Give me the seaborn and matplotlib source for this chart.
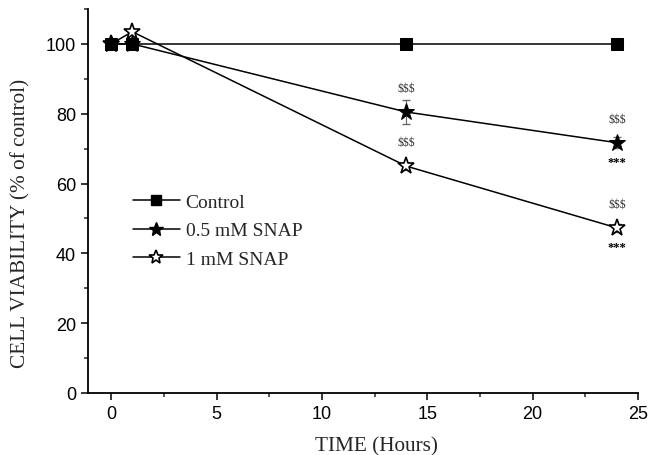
import matplotlib
matplotlib.use("Agg")
import matplotlib.pyplot as plt
import seaborn as sns
import pandas as pd
from matplotlib.ticker import MultipleLocator
from matplotlib.lines import Line2D

sns.set_style("ticks")
plt.rcParams["font.family"] = ["Liberation Sans", "DejaVu Sans"]

time_h = [0, 1, 14, 24]
control = [100, 100, 100, 100]
snap_05 = [100, 100, 80.5, 71.7]
snap_05_err = [0, 0, 3.3, 1.5]
snap_1 = [100, 103.5, 65.0, 47.3]
snap_1_err = [0, 0, 1.0, 1.2]
series_names = ["Control", "0.5 mM SNAP", "1 mM SNAP"]

frames = []
for name, vals in zip(series_names, [control, snap_05, snap_1]):
    frames.append(pd.DataFrame({"time": time_h, "viability": vals, "group": name}))
df = pd.concat(frames, ignore_index=True)

fig = plt.figure(figsize=(6.48, 4.56), dpi=100)
ax = fig.add_axes([88 / 648, 62 / 456, 550 / 648, 384 / 456])

styles = {
    "Control": dict(marker="s", markersize=8, markerfacecolor="black", markeredgecolor="black"),
    "0.5 mM SNAP": dict(marker="*", markersize=12.5, markerfacecolor="black", markeredgecolor="black"),
    "1 mM SNAP": dict(marker="*", markersize=12.5, markerfacecolor="white", markeredgecolor="black",
                      markeredgewidth=1.2),
}
order = ["Control", "1 mM SNAP", "0.5 mM SNAP"]
for name in order:
    sub = df[df["group"] == name]
    sns.lineplot(data=sub, x="time", y="viability", ax=ax, color="black",
                 linewidth=1.1, legend=False, **styles[name])

for vals, errs in [(snap_05, snap_05_err), (snap_1, snap_1_err)]:
    ax.errorbar(time_h[2:], vals[2:], yerr=errs[2:], fmt="none", ecolor="#666666",
                elinewidth=0.8, capsize=3, zorder=1)

serif = ["Liberation Serif", "DejaVu Serif"]
for vals in [snap_05, snap_1]:
    for t, v in zip(time_h[2:], vals[2:]):
        ax.text(t, v + 5.2, "$$$", ha="center", va="bottom", fontsize=8.5,
                family=serif, color="#333333")
for vals in [snap_05, snap_1]:
    ax.text(time_h[3], vals[3] - 3.8, "***", ha="center", va="top", fontsize=9,
            family=serif, color="black", fontweight="bold")

ax.set_xlim(-1.1, 25)
ax.set_ylim(0, 110)
ax.xaxis.set_major_locator(MultipleLocator(5))
ax.xaxis.set_minor_locator(MultipleLocator(2.5))
ax.yaxis.set_major_locator(MultipleLocator(20))
ax.yaxis.set_minor_locator(MultipleLocator(10))
ax.tick_params(axis="both", which="major", direction="out", length=5, width=1.1,
               labelsize=13, colors="black")
ax.tick_params(axis="both", which="minor", direction="out", length=3, width=1.1)
for s in ["left", "bottom"]:
    ax.spines[s].set_linewidth(1.3)
    ax.spines[s].set_color("black")
sns.despine(ax=ax)

ax.set_xlabel("TIME (Hours)", family=serif, fontsize=15.3)
ax.set_ylabel("CELL VIABILITY (% of control)", family=serif, fontsize=15.3)
ax.xaxis.set_label_coords(0.524, -0.112)
ax.yaxis.set_label_coords(-0.105, 0.443)

handles = [Line2D([], [], color="black", linewidth=1.1,
                  **{**styles[n], "markersize": styles[n]["markersize"] * 0.85}) for n in series_names]
ax.legend(handles, series_names, loc="upper left", bbox_to_anchor=(0.05, 0.565),
          frameon=False, prop={"family": serif, "size": 14}, handlelength=2.4,
          handletextpad=0.3, labelspacing=0.55)

fig.savefig("out.png", dpi=100)
